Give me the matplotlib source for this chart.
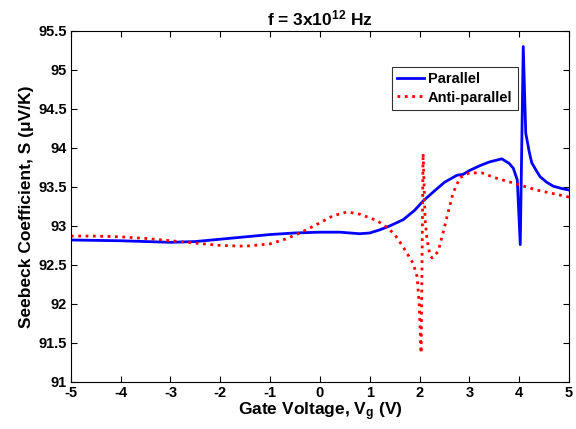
import numpy as np
import matplotlib
matplotlib.use("Agg")
import matplotlib.pyplot as plt
from matplotlib.ticker import FuncFormatter

plt.rcParams['font.family'] = ['Liberation Sans', 'DejaVu Sans']
plt.rcParams['font.weight'] = 'bold'
plt.rcParams['axes.unicode_minus'] = False
plt.rcParams['mathtext.fontset'] = 'custom'
plt.rcParams['mathtext.rm'] = 'Liberation Sans:bold'
plt.rcParams['mathtext.bf'] = 'Liberation Sans:bold'
plt.rcParams['mathtext.it'] = 'Liberation Sans:bold'

# Parallel
v_par = [-5, -4, -3, -2.5, -2, -1.5, -1, -0.5, 0, 0.4, 0.8, 1.0, 1.2, 1.4, 1.67,
         1.9, 2.07, 2.3, 2.5, 2.75, 2.87, 3.0, 3.2, 3.4, 3.65, 3.8, 3.88, 3.96,
         4.02, 4.08, 4.13, 4.2, 4.25, 4.35, 4.42, 4.55, 4.68, 4.85, 5]
s_par = [92.82, 92.81, 92.79, 92.80, 92.83, 92.86, 92.89, 92.91, 92.92, 92.92,
         92.90, 92.91, 92.95, 93.00, 93.08, 93.20, 93.32, 93.45, 93.56, 93.65,
         93.66, 93.71, 93.77, 93.82, 93.86, 93.80, 93.74, 93.59, 92.76, 95.30,
         94.19, 93.95, 93.81, 93.70, 93.63, 93.56, 93.51, 93.48, 93.46]

# Anti-parallel
v_anti = [-5, -4.5, -4, -3.5, -3, -2.5, -2, -1.5, -1, -0.7, -0.4, 0, 0.26, 0.55,
          0.8, 1.14, 1.35, 1.5, 1.67, 1.87, 1.95, 1.99, 2.03, 2.07, 2.11, 2.15,
          2.21, 2.25, 2.37, 2.47, 2.57, 2.67, 2.81, 3.0, 3.25, 3.5, 3.88, 4.35, 5]
s_anti = [92.87, 92.87, 92.86, 92.84, 92.81, 92.78, 92.75, 92.74, 92.77, 92.83,
          92.91, 93.04, 93.13, 93.18, 93.15, 93.07, 92.98, 92.89, 92.73, 92.52,
          92.35, 92.01, 91.37, 93.93, 93.08, 92.82, 92.62, 92.59, 92.67, 92.91,
          93.17, 93.42, 93.62, 93.68, 93.68, 93.62, 93.55, 93.46, 93.37]

fig = plt.figure(figsize=(5.76, 4.29), dpi=100)
ax = fig.add_axes([0.123, 0.1096, 0.865, 0.8184])

ax.plot(v_par, s_par, color='#0000ff', lw=2.0, label='Parallel')
ax.plot(v_anti, s_anti, color='#ff0000', lw=2.0, ls=':', label='Anti-parallel')

ax.set_xlim(-5, 5)
ax.set_ylim(91, 95.5)
ax.set_xticks(np.arange(-5, 6, 1))
ax.set_yticks(np.arange(91, 95.6, 0.5))
ax.yaxis.set_major_formatter(FuncFormatter(lambda v, p: '%g' % v))
ax.tick_params(direction='in', top=True, right=True, labelsize=10.5, length=4, pad=3)

ax.set_xlabel('Gate Voltage, V$_{\\mathbf{g}}$ (V)', fontsize=12.5, fontweight='bold', labelpad=0)
ax.set_ylabel('Seebeck Coefficient, S (\u03bcV/K)', fontsize=12.5, fontweight='bold', labelpad=3)
ax.set_title('f = 3x10$^{\\mathbf{12}}$ Hz', fontsize=12.5, fontweight='bold', pad=4)

leg = ax.legend(loc='upper left', bbox_to_anchor=(0.645, 0.897), frameon=True,
                fancybox=False, edgecolor='black', fontsize=10.5, handlelength=1.8,
                handletextpad=0.3, borderpad=0.35, labelspacing=0.3, borderaxespad=0)
leg.get_frame().set_linewidth(0.8)

fig.savefig('out.png', dpi=100)
